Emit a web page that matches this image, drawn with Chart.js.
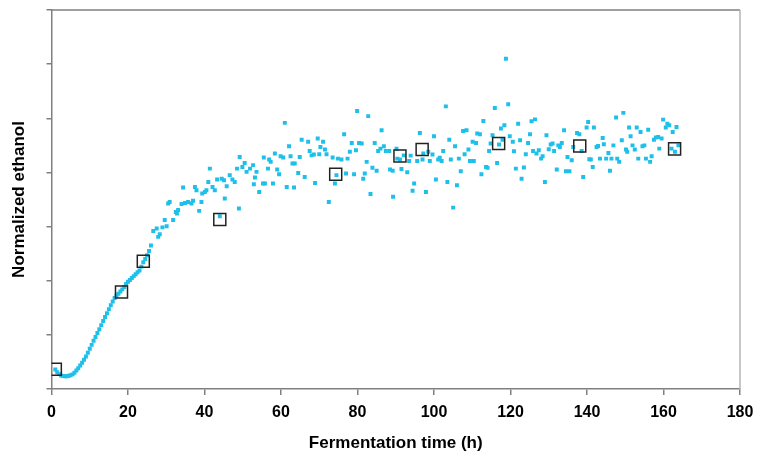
<!DOCTYPE html>
<html>
<head>
<meta charset="utf-8">
<script src="https://cdn.jsdelivr.net/npm/chart.js@4.4.1/dist/chart.umd.min.js"></script>
<style>
	html, body { margin: 0; padding: 0; background: #fff; }
	#wrap { width: 757px; height: 457px; position: relative; }
</style>
</head>
<body>
<div id="wrap"><canvas id="ethanolChart"></canvas></div>
<script>
// Online ethanol signal, early phase (smooth rise, 0.5 h sampling)
const curveHours = [
	1.0, 1.5, 2.0, 2.5, 3.0, 3.5, 4.0, 4.5, 5.0, 5.5, 6.0, 6.5, 7.0, 7.5, 8.0, 8.5, 9.0, 9.5,
	10.0, 10.5, 11.0, 11.5, 12.0, 12.5, 13.0, 13.5, 14.0, 14.5, 15.0, 15.5, 16.0, 16.5, 17.0,
	17.5, 18.0, 18.5, 19.0, 19.5, 20.0, 20.5, 21.0, 21.5, 22.0, 22.5, 23.0, 23.5, 24.0, 24.5,
	25.0, 25.5, 26.0,
];
const curveValues = [
	0.072, 0.062, 0.055, 0.050, 0.048, 0.047, 0.047, 0.049, 0.051, 0.054, 0.060, 0.068, 0.077,
	0.087, 0.097, 0.108, 0.120, 0.134, 0.149, 0.163, 0.178, 0.192, 0.207, 0.221, 0.236, 0.251,
	0.266, 0.280, 0.295, 0.309, 0.323, 0.336, 0.345, 0.352, 0.360, 0.368, 0.377, 0.388, 0.396,
	0.403, 0.410, 0.417, 0.424, 0.431, 0.438, 0.452, 0.468, 0.480, 0.494, 0.510, 0.530,
];

// Online ethanol signal, later noisy phase
const scatterHours = [
	26.6, 27.5, 27.9, 28.3, 29.0, 29.6, 30.1, 30.5, 30.9, 31.8, 32.5, 32.8, 33.1, 34.0, 34.4,
	34.9, 35.7, 36.6, 37.0, 37.5, 37.9, 38.6, 39.2, 39.4, 40.1, 40.5, 41.0, 41.4, 42.1, 42.7,
	43.3, 44.0, 44.5, 45.1, 45.3, 45.8, 46.6, 47.3, 47.9, 48.5, 49.0, 49.2, 49.9, 50.5, 51.0,
	51.9, 52.7, 52.9, 53.2, 53.6, 54.3, 55.5, 55.3, 55.8, 56.9, 57.3, 56.6, 58.4, 57.9, 59.0,
	59.5, 59.9, 60.6, 61.0, 61.5, 62.1, 62.5, 63.0, 63.6, 63.4, 64.5, 64.9, 65.4, 66.2, 67.1,
	67.5, 68.0, 68.6, 68.9, 69.6, 70.0, 70.3, 71.0, 71.5, 71.9, 72.5, 73.5, 74.1, 74.5, 74.9,
	75.8, 76.5, 77.0, 77.4, 78.0, 78.5, 79.1, 79.6, 79.9, 80.4, 81.1, 81.5, 81.9, 82.4, 82.8,
	83.4, 83.9, 84.5, 85.0, 85.4, 86.0, 86.3, 86.9, 87.4, 88.3, 88.5, 89.2, 89.3, 90.2, 90.4,
	91.1, 91.5, 92.1, 93.0, 93.5, 93.9, 94.4, 94.8, 95.6, 96.3, 97.0, 97.2, 97.9, 98.5, 98.9,
	99.6, 100.0, 100.5, 101.1, 101.5, 102.0, 102.4, 103.1, 103.5, 104.0, 104.4, 105.0, 105.5,
	106.0, 106.5, 107.0, 107.6, 108.0, 108.5, 109.0, 109.4, 110.1, 110.4, 111.0, 111.3, 112.0,
	112.4, 112.9, 113.6, 114.0, 114.4, 114.8, 115.3, 115.9, 116.5, 117.0, 117.5, 117.9, 118.4,
	118.8, 119.4, 119.8, 120.6, 120.9, 121.4, 122.0, 122.5, 122.9, 123.5, 124.0, 124.6, 125.1,
	125.5, 125.9, 126.4, 126.8, 127.4, 128.0, 128.4, 129.0, 129.4, 130.0, 130.5, 131.0, 131.4,
	132.1, 132.5, 132.9, 133.4, 134.0, 134.5, 134.9, 135.4, 136.0, 136.4, 137.4, 138.0, 138.6,
	139.0, 139.9, 140.3, 140.6, 141.0, 141.5, 141.8, 142.5, 142.9, 143.4, 144.1, 144.4, 145.0,
	145.6, 146.0, 146.4, 146.9, 147.6, 147.9, 148.4, 149.1, 149.5, 150.2, 150.5, 151.0, 151.4,
	151.9, 152.5, 153.0, 153.4, 154.0, 154.5, 155.0, 155.4, 156.0, 156.5, 156.9, 157.5, 158.0,
	158.6, 158.9, 159.5, 159.9, 160.6, 161.0, 161.5, 162.1, 162.4, 163.0, 163.4, 163.9,
];
const scatterValues = [
	0.584, 0.593, 0.562, 0.572, 0.597, 0.624, 0.601, 0.685, 0.691, 0.624, 0.654, 0.648, 0.661,
	0.683, 0.744, 0.687, 0.691, 0.685, 0.695, 0.746, 0.734, 0.658, 0.691, 0.722, 0.728, 0.734,
	0.765, 0.814, 0.746, 0.734, 0.774, 0.638, 0.777, 0.771, 0.704, 0.749, 0.790, 0.774, 0.765,
	0.814, 0.667, 0.857, 0.820, 0.835, 0.802, 0.814, 0.827, 0.756, 0.781, 0.802, 0.728, 0.855,
	0.759, 0.759, 0.848, 0.839, 0.814, 0.870, 0.759, 0.811, 0.793, 0.860, 0.855, 0.983, 0.746,
	0.897, 0.860, 0.833, 0.833, 0.744, 0.798, 0.857, 0.921, 0.783, 0.913, 0.879, 0.863, 0.866,
	0.761, 0.925, 0.867, 0.894, 0.913, 0.885, 0.867, 0.691, 0.855, 0.759, 0.790, 0.851, 0.848,
	0.941, 0.796, 0.851, 0.876, 0.909, 0.793, 0.882, 1.027, 0.909, 0.907, 0.777, 0.796, 0.839,
	1.008, 0.720, 0.817, 0.909, 0.806, 0.879, 0.888, 0.956, 0.897, 0.879, 0.879, 0.811, 0.806,
	0.710, 0.888, 0.851, 0.848, 0.813, 0.863, 0.801, 0.842, 0.862, 0.732, 0.759, 0.842, 0.946,
	0.848, 0.870, 0.728, 0.876, 0.842, 0.866, 0.934, 0.774, 0.848, 0.854, 0.842, 0.879, 1.044,
	0.765, 0.921, 0.848, 0.670, 0.897, 0.753, 0.851, 0.804, 0.953, 0.867, 0.956, 0.885, 0.842,
	0.913, 0.842, 0.909, 0.944, 0.941, 0.793, 0.990, 0.820, 0.817, 0.879, 0.907, 0.937, 1.038,
	0.835, 0.903, 0.962, 0.921, 0.974, 1.220, 1.052, 0.934, 0.913, 0.878, 0.814, 0.980, 0.919,
	0.777, 0.818, 0.867, 0.909, 0.941, 0.989, 0.879, 0.996, 0.870, 0.882, 0.851, 0.860, 0.765,
	0.937, 0.886, 0.903, 0.907, 0.879, 0.811, 0.900, 0.894, 0.909, 0.956, 0.804, 0.857, 0.804,
	0.845, 0.894, 0.946, 0.941, 0.879, 0.783, 0.966, 0.986, 0.849, 0.848, 0.820, 0.966, 0.894,
	0.898, 0.851, 0.927, 0.904, 0.851, 0.872, 0.806, 0.851, 0.900, 1.003, 0.851, 0.839, 0.919,
	1.020, 0.885, 0.876, 0.966, 0.934, 0.900, 0.885, 0.966, 0.851, 0.949, 0.897, 0.900, 0.851,
	0.958, 0.839, 0.860, 0.921, 0.929, 0.931, 0.888, 0.925, 0.995, 0.966, 0.980, 0.974, 0.888,
	0.949, 0.876, 0.968, 0.900,
];

// Offline reference samples (open squares)
const sampleHours = [1.0, 18.3, 24.0, 44.0, 74.3, 91.1, 96.9, 116.9, 138.1, 162.9];
const sampleValues = [0.073, 0.358, 0.472, 0.626, 0.793, 0.861, 0.885, 0.907, 0.898, 0.887];

const xMin = 0;
const xMax = 180;
const xStep = 20;
const yMin = 0;
const yMax = 1.4;
const yStep = 0.2;

const toPoints = (xs, ys) => xs.map((x, i) => ({ x, y: ys[i] }));

const onlinePoints = toPoints(curveHours, curveValues).concat(
	toPoints(scatterHours, scatterValues),
);
const samplePoints = toPoints(sampleHours, sampleValues);

const axisGrey = "#808080";
const fontFamily = "'Liberation Sans', Arial, Helvetica, sans-serif";

// top and right edges of the plot frame
const frameEdges = {
	id: "frameEdges",
	afterDraw(chart) {
		const { ctx, chartArea } = chart;
		ctx.save();
		ctx.lineWidth = 1.5;
		ctx.strokeStyle = axisGrey;
		ctx.beginPath();
		ctx.moveTo(chartArea.left, chartArea.top);
		ctx.lineTo(chartArea.right, chartArea.top);
		ctx.stroke();
		ctx.strokeStyle = "#b4b4b4";
		ctx.beginPath();
		ctx.moveTo(chartArea.right, chartArea.top);
		ctx.lineTo(chartArea.right, chartArea.bottom);
		ctx.stroke();
		ctx.restore();
	},
};

new Chart(document.getElementById("ethanolChart"), {
	type: "scatter",
	data: {
		datasets: [
			{
				label: "Offline",
				data: samplePoints,
				pointStyle: "rect",
				pointRadius: 8.5,
				pointBorderWidth: 1.5,
				pointBorderColor: "#222222",
				pointBackgroundColor: "rgba(0,0,0,0)",
				order: 0,
			},
			{
				label: "Online",
				data: onlinePoints,
				pointStyle: "rect",
				pointRadius: 2.8,
				pointBorderWidth: 0,
				pointBackgroundColor: "#1ec0ea",
				order: 1,
			},
		],
	},
	plugins: [frameEdges],
	options: {
		responsive: true,
		maintainAspectRatio: false,
		animation: false,
		layout: { padding: { left: 0, top: 9.5, right: 17, bottom: 0 } },
		plugins: {
			legend: { display: false },
			tooltip: { enabled: false },
		},
		scales: {
			x: {
				type: "linear",
				min: xMin,
				max: xMax,
				afterFit: (scale) => {
					scale.height = 68;
					// the end labels may overhang; the layout padding covers them
					scale.paddingLeft = 0;
					scale.paddingRight = 0;
				},
				ticks: {
					stepSize: xStep,
					padding: 8,
					color: "#000",
					font: { family: fontFamily, size: 16, weight: "bold" },
				},
				grid: {
					drawOnChartArea: false,
					drawTicks: true,
					tickLength: 6,
					color: axisGrey,
					lineWidth: 1.5,
				},
				border: { display: true, color: axisGrey, width: 1.5 },
				title: {
					display: true,
					text: "Fermentation time (h)",
					color: "#000",
					padding: { top: 0, bottom: 3.5 },
					font: { family: fontFamily, size: 17, weight: "bold" },
				},
			},
			y: {
				type: "linear",
				min: yMin,
				max: yMax,
				afterFit: (scale) => {
					scale.width = 51.5;
				},
				ticks: { stepSize: yStep, display: false },
				grid: {
					drawOnChartArea: false,
					drawTicks: true,
					tickLength: 5,
					color: axisGrey,
					lineWidth: 1.5,
				},
				border: { display: true, color: axisGrey, width: 1.5 },
				title: {
					display: true,
					text: "Normalized ethanol",
					color: "#000",
					padding: { top: 9.5, bottom: 0 },
					font: { family: fontFamily, size: 17, weight: "bold" },
				},
			},
		},
	},
});
</script>
</body>
</html>
